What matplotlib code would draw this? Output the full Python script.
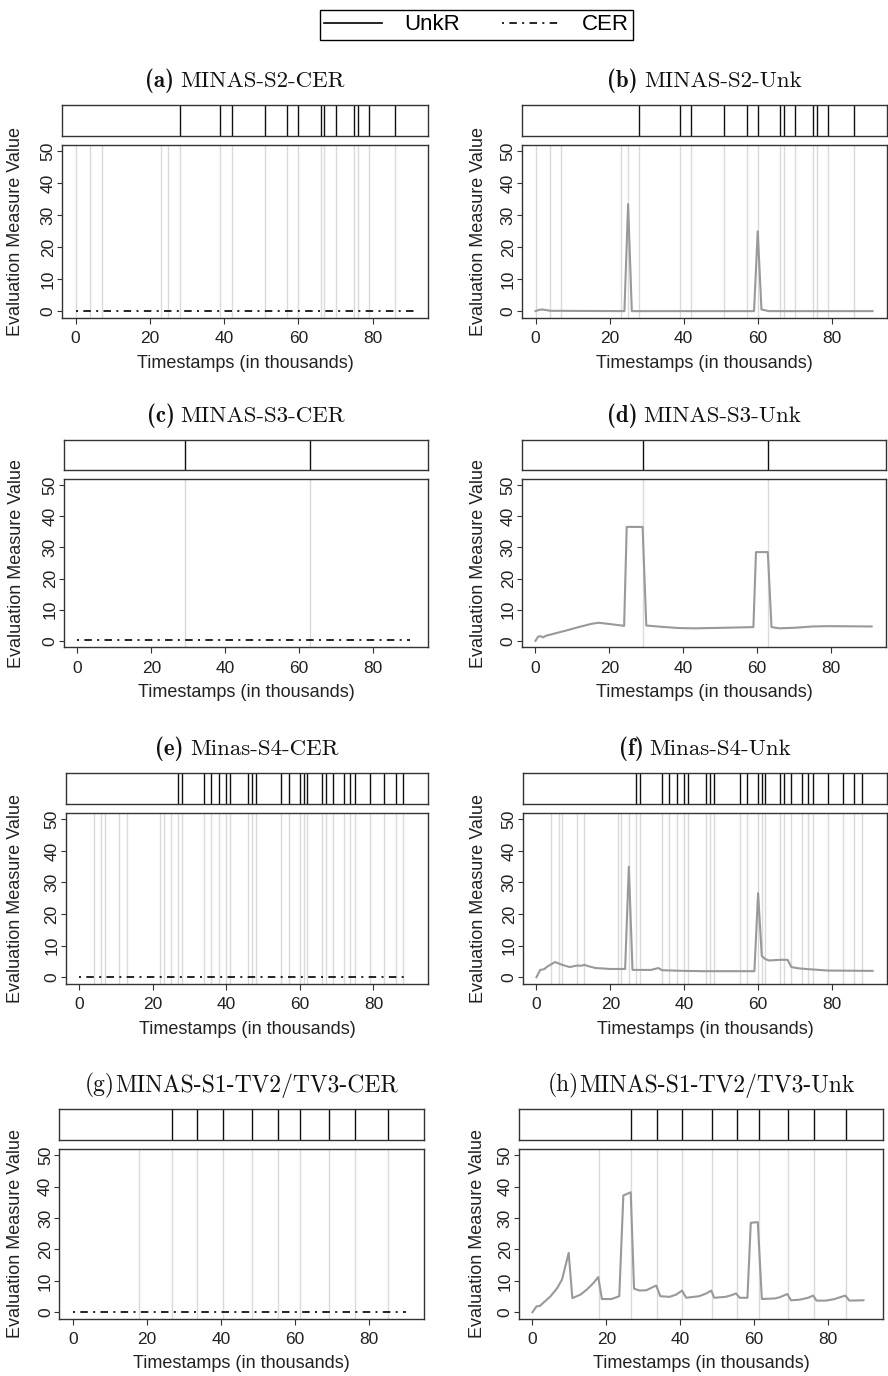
import matplotlib
matplotlib.use('Agg')
import matplotlib.pyplot as plt
from matplotlib.lines import Line2D

plt.rcParams['font.family'] = ['Liberation Sans', 'DejaVu Sans']

# ---------------- data (timestamps in thousands) ----------------
# S2 (panels a, b)
s2_events = [0, 4, 7, 23, 25, 28, 39, 42, 51, 57, 60, 66, 67, 70, 75, 76, 79, 86]
s2_drifts = [28, 39, 42, 51, 57, 60, 66, 67, 70, 75, 76, 79, 86]
s2_cer_x = [0, 91]
s2_cer_y = [0, 0]
s2_unk_x = [0, 1, 2, 3, 4, 24, 25, 26, 59, 60, 61, 63, 91]
s2_unk_y = [0, 0.4, 0.5, 0.3, 0.1, 0, 33.5, 0, 0, 25, 0.5, 0, 0]

# S3 (panels c, d)
s3_events = [29, 63]
s3_drifts = [29, 63]
s3_cer_x = [0, 90]
s3_cer_y = [0.2, 0.2]
s3_unk_x = [0, 0.7, 1.3, 2.1, 2.8, 8, 12, 15, 17, 20, 24, 24.7, 29, 30, 34, 38.6, 43,
            52, 59, 59.7, 62.9, 63.9, 66, 70.5, 75, 79.5, 91]
s3_unk_y = [0, 1.3, 1.5, 1.1, 1.6, 3.2, 4.5, 5.4, 5.8, 5.4, 4.8, 36.6, 36.6, 4.9, 4.5, 4.1, 4.0,
            4.2, 4.4, 28.5, 28.5, 4.4, 4.0, 4.2, 4.6, 4.7, 4.6]

# S4 (panels e, f)
s4_events = [4, 6, 7, 11, 13, 22, 23, 25, 27, 28, 34, 36, 38, 40, 41, 46, 47, 48, 55, 57,
             60, 61, 62, 66, 67, 69, 72, 73.5, 75, 79, 83, 86, 88]
s4_drifts = [27, 28, 34, 36, 38, 40, 41, 46, 47, 48, 55, 57, 60, 61, 62, 66, 67, 69, 72,
             73.5, 75, 79, 83, 86, 88]
s4_cer_x = [0, 89.5]
s4_cer_y = [0, 0]
s4_unk_x = [0, 1, 2, 3, 5, 7, 9, 11, 12, 13, 14, 16, 20, 24, 25, 26, 31, 33, 34, 40, 45,
            59, 60, 61, 62, 63, 66, 68, 69, 71, 74, 79, 91]
s4_unk_y = [0, 2.3, 2.5, 3.4, 4.8, 3.9, 3.2, 3.7, 3.6, 3.9, 3.5, 2.9, 2.6, 2.6, 35, 2.3,
            2.3, 2.9, 2.2, 2.0, 1.9, 1.9, 26.6, 6.7, 5.7, 5.3, 5.5, 5.5, 3.2, 2.8, 2.5, 2.1, 2.0]

# S1-TV2/TV3 (panels g, h)
s1_events = [18, 26.7, 33.6, 40.5, 48.5, 55.3, 61.3, 69.2, 76.1, 85]
s1_drifts = [26.7, 33.6, 40.5, 48.5, 55.3, 61.3, 69.2, 76.1, 85]
s1_cer_x = [0, 90]
s1_cer_y = [0, 0]
s1_unk_x = [0, 1.1, 2, 4.9, 6.7, 8, 9.8, 10.8, 13, 14.7, 16.5, 17.8, 18.8, 21.4, 23.5,
            24.6, 26.6, 27.5, 29, 30.8, 32.6, 33.5, 34.6, 37.1, 38.9, 40.5, 41.6, 45.1,
            46.9, 48.4, 49.2, 52.3, 54.1, 55.1, 56.1, 58.2, 59.1, 61, 62.1, 65.7, 67, 69,
            70, 72.4, 74.6, 76, 76.9, 79.5, 81.8, 83.6, 84.7, 85.8, 89.6]
s1_unk_y = [0, 1.9, 2, 5.1, 7.7, 10.4, 18.9, 4.5, 5.6, 7.2, 9.3, 11.2, 4.2, 4.2, 5.1,
            37.2, 38.2, 7.5, 6.9, 7, 8, 8.5, 5.1, 4.9, 5.6, 6.9, 4.6, 5.1,
            5.9, 6.9, 4.6, 4.9, 5.5, 6, 4.6, 4.6, 28.5, 28.7, 4.2, 4.4, 4.8, 5.8,
            3.8, 4, 4.6, 5.3, 3.7, 3.7, 4.2, 4.9, 5.3, 3.7, 3.8]

titles_prefix = ['(a)', '(b)', '(c)', '(d)', '(e)', '(f)', '(g)', '(h)']
titles_rest = ['MINAS-S2-CER', 'MINAS-S2-Unk', 'MINAS-S3-CER', 'MINAS-S3-Unk',
               'Minas-S4-CER', 'Minas-S4-Unk', 'MINAS-S1-TV2/TV3-CER', 'MINAS-S1-TV2/TV3-Unk']
x_ticks = [0, 20, 40, 60, 80]
y_ticks = [0, 10, 20, 30, 40, 50]

# ---------------- layout ----------------
W, H = 888, 1376
fig = plt.figure(figsize=(W / 100, H / 100), dpi=100)

rows = [  # strip top, strip bottom, main top, main bottom
    (104.5, 135.5, 145, 317.5),
    (439.5, 469.5, 479, 647),
    (772.5, 804, 813, 983.5),
    (1109, 1140, 1149, 1318.5),
]
cols_left = [(62, 428), (64, 428), (65.5, 428.3), (59.3, 424.3)]
cols_right = [(522, 887), (522, 886), (523, 887), (519, 883)]

XLIM = (-3.65, 94.9)
YLIM = (-2, 52)
SPINE = '#333333'
EVENT_C = '#dadada'
UNK_C = '#999999'
CER_LS = (0, (1.2, 3.2, 4.5, 3.2))

panels = [
    (s2_events, s2_drifts, 'cer', s2_cer_x, s2_cer_y),
    (s2_events, s2_drifts, 'unk', s2_unk_x, s2_unk_y),
    (s3_events, s3_drifts, 'cer', s3_cer_x, s3_cer_y),
    (s3_events, s3_drifts, 'unk', s3_unk_x, s3_unk_y),
    (s4_events, s4_drifts, 'cer', s4_cer_x, s4_cer_y),
    (s4_events, s4_drifts, 'unk', s4_unk_x, s4_unk_y),
    (s1_events, s1_drifts, 'cer', s1_cer_x, s1_cer_y),
    (s1_events, s1_drifts, 'unk', s1_unk_x, s1_unk_y),
]


def px_axes(l, t, r, b):
    return fig.add_axes([l / W, 1 - b / H, (r - l) / W, (b - t) / H])


title_items = []
for i, (events, drifts, kind, xs, ys) in enumerate(panels):
    row = i // 2
    left_col = (i % 2 == 0)
    l, r = (cols_left if left_col else cols_right)[row]
    st, sb, mt, mb = rows[row]

    # strip with drift markers
    sax = px_axes(l, st, r, sb)
    sax.set_xlim(*XLIM)
    sax.set_ylim(0, 1)
    for d in drifts:
        sax.axvline(d, color='#111111', lw=1.0)
    sax.set_xticks([])
    sax.set_yticks([])
    for sp in sax.spines.values():
        sp.set_color(SPINE)
        sp.set_linewidth(1.0)

    # main panel
    ax = px_axes(l, mt, r, mb)
    ax.set_xlim(*XLIM)
    ax.set_ylim(*YLIM)
    for e in events:
        ax.axvline(e, color=EVENT_C, lw=1.0, zorder=1)
    if kind == 'cer':
        ax.plot(xs, ys, color='black', lw=1.2, ls=CER_LS, zorder=3)
    else:
        ax.plot(xs, ys, color=UNK_C, lw=1.5, zorder=3)
    ax.set_xticks(x_ticks)
    ax.set_yticks(y_ticks)
    ax.set_yticklabels([str(v) for v in y_ticks], rotation=90, va='center')
    ax.tick_params(axis='x', length=4, width=0.8, color=SPINE, pad=6, labelsize=12.5,
                   labelcolor='#222222')
    ax.tick_params(axis='y', length=3.5, width=0.8, color=SPINE, pad=1, labelsize=12.5,
                   labelcolor='#222222')
    for sp in ax.spines.values():
        sp.set_color(SPINE)
        sp.set_linewidth(1.0)
    wpx = r - l
    hpx = mb - mt
    ax.set_xlabel('Timestamps (in thousands)', fontsize=13, color='#222222')
    ax.xaxis.set_label_coords(0.5, -37 / hpx)
    ax.set_ylabel('Evaluation Measure Value', fontsize=13, color='#222222', va='center')
    ylab_x = 16 if left_col else 478
    ax.yaxis.set_label_coords(-(l - ylab_x) / wpx, 0.5)

    # title
    bold = row < 3
    size = 16.5 if bold else 17
    cx = (l + r) / 2
    ybase = st - 17.5
    t1 = fig.text(cx / W, 1 - ybase / H, titles_prefix[i],
                  fontfamily='cmb10' if bold else 'cmr10', fontsize=size,
                  ha='left', va='baseline', color='#111111')
    t2 = fig.text(cx / W, 1 - ybase / H, titles_rest[i], fontfamily='cmr10',
                  fontsize=size, ha='left', va='baseline', color='#111111')
    title_items.append((cx, t1, t2, 6 if bold else 0.5))

# center two-part titles
renderer = fig.canvas.get_renderer()
for cx, t1, t2, gap in title_items:
    w1 = t1.get_window_extent(renderer).width
    w2 = t2.get_window_extent(renderer).width
    total = w1 + gap + w2
    x0 = cx - total / 2
    t1.set_x(x0 / W)
    t2.set_x((x0 + w1 + gap) / W)

# legend
handles = [Line2D([], [], color='black', lw=1.2),
           Line2D([], [], color='black', lw=1.2, ls=CER_LS)]
fig.legend(handles, ['UnkR', 'CER'], ncol=2, loc='center',
           bbox_to_anchor=(476.5 / W, 1 - 25 / H), frameon=True, fancybox=False,
           edgecolor='black', fontsize=16, handlelength=2.6, columnspacing=1.9,
           borderpad=0.2, borderaxespad=0, handletextpad=1.0, framealpha=1)

fig.savefig('out.png', dpi=100)
